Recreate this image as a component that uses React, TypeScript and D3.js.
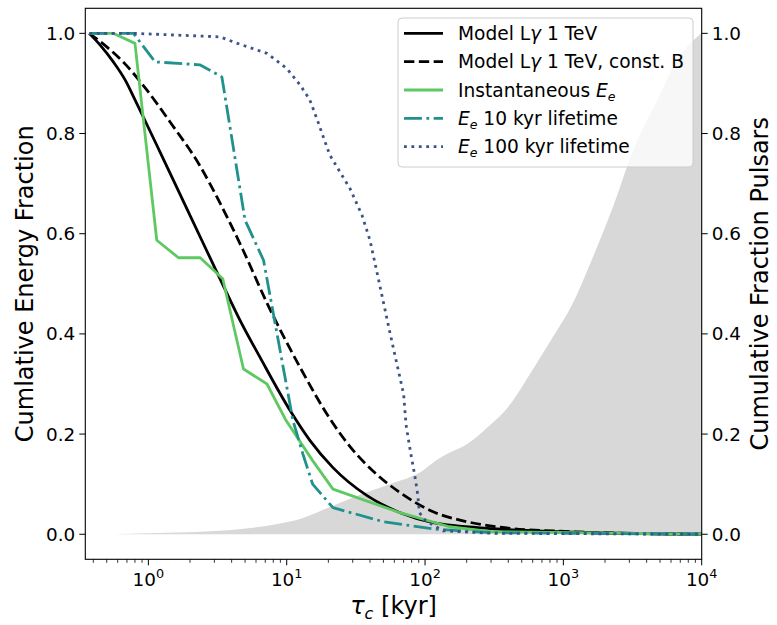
import React from "react";
import * as d3 from "d3";

const tauModel = [0.374, 0.447, 0.558, 0.679, 0.801, 1.215, 1.692, 2.57, 3.47, 4.6, 6.42, 10.58, 14.75, 21.6, 38.1, 66.1, 114.6, 311, 948, 10000];
const fracModel = [1.0, 0.977, 0.943, 0.907, 0.867, 0.763, 0.679, 0.573, 0.497, 0.427, 0.353, 0.247, 0.187, 0.133, 0.077, 0.043, 0.023, 0.011, 0.005, 0];

const tauConstB = [0.374, 0.5, 0.678, 0.974, 1.435, 2.365, 3.3, 4.84, 7.22, 12.5, 21.65, 28.7, 45.0, 66.1, 114.5, 201.6, 349, 948, 10000];
const fracConstB = [1.0, 0.973, 0.939, 0.887, 0.823, 0.735, 0.661, 0.567, 0.461, 0.333, 0.221, 0.175, 0.119, 0.083, 0.045, 0.025, 0.014, 0.006, 0];

const tauInst = [0.375, 0.557, 0.8, 1.15, 1.65, 2.37, 3.45, 4.87, 7.2, 9.9, 15.4, 21.6, 66, 150, 300, 10000];
const fracInst = [1.0, 1.0, 0.98, 0.587, 0.552, 0.552, 0.51, 0.33, 0.3, 0.227, 0.147, 0.09, 0.043, 0.015, 0.005, 0];

const tau10 = [0.375, 0.78, 1.12, 2.37, 3.4, 5.0, 6.8, 11.1, 13.1, 15.4, 21.6, 50, 120, 300, 10000];
const frac10 = [1.0, 1.0, 0.943, 0.937, 0.913, 0.627, 0.547, 0.227, 0.16, 0.1, 0.053, 0.025, 0.01, 0.003, 0];

const tau100 = [0.375, 0.78, 3.3, 4.4, 7.2, 10, 12.5, 14.7, 16.5, 18.4, 20.5, 24.3, 28.7, 35, 40, 46, 56, 70, 73, 79, 84, 88.5, 91, 101, 135, 300, 10000];
const frac100 = [1, 1, 0.993, 0.98, 0.96, 0.93, 0.897, 0.867, 0.83, 0.793, 0.757, 0.723, 0.69, 0.637, 0.587, 0.51, 0.4, 0.28, 0.217, 0.16, 0.12, 0.08, 0.043, 0.027, 0.007, 0.002, 0];

const tauPulsars = [0.55, 1.01, 1.94, 3.03, 5.71, 10.07, 12.5, 18.2, 32.0, 55.4, 96.1, 120, 144, 202, 281, 412, 575, 844, 1177, 1642, 2291, 3196, 4766, 6645, 9268, 10000];
const fracPulsars = [0, 0.002, 0.004, 0.0066, 0.0132, 0.0246, 0.0306, 0.0486, 0.0766, 0.1, 0.127, 0.147, 0.16, 0.18, 0.2126, 0.259, 0.3206, 0.3946, 0.4626, 0.5546, 0.6546, 0.7666, 0.8666, 0.9466, 0.9926, 1.0];

const yTicks = [0, 0.2, 0.4, 0.6, 0.8, 1.0];
const xMajor = [0, 1, 2, 3, 4];

const FONT = "DejaVu Sans";
const L = 85.3, R = 701.7, T = 8.3, B = 559.3;
const LW = 2.8;
const DASHED = `${3.7 * LW},${1.6 * LW}`;
const DASHDOT = `${6.4 * LW},${1.6 * LW},${1 * LW},${1.6 * LW}`;
const DOTTED = `${1 * LW},${1.65 * LW}`;

export default function App() {
  const x = d3.scaleLog().domain([0.35, 1e4]).range([L, R]);
  const y = d3.scaleLinear().domain([-0.05, 1.05]).range([B, T]);

  const line = (xs: number[], ys: number[], smooth: boolean) =>
    d3
      .line<number>()
      .x((i) => x(xs[i]))
      .y((i) => y(ys[i]))
      .curve(smooth ? d3.curveMonotoneX : d3.curveLinear)(xs.map((_, i) => i)) || "";
  const area =
    d3
      .area<number>()
      .x((i) => x(tauPulsars[i]))
      .y0(y(0))
      .y1((i) => y(fracPulsars[i]))
      .curve(d3.curveMonotoneX)(tauPulsars.map((_, i) => i)) || "";

  const minor: number[] = [];
  for (let e = -1; e < 4; e++)
    for (let m = 2; m <= 9; m++) {
      const v = m * Math.pow(10, e);
      if (v >= 0.35 && v <= 1e4) minor.push(v);
    }

  const series = [
    { xs: tauModel, ys: fracModel, color: "#000000", dash: "", smooth: true },
    { xs: tauConstB, ys: fracConstB, color: "#000000", dash: DASHED, smooth: true },
    { xs: tauInst, ys: fracInst, color: "#5ec962", dash: "", smooth: false },
    { xs: tau10, ys: frac10, color: "#21918c", dash: DASHDOT, smooth: false },
    { xs: tau100, ys: frac100, color: "#3b528b", dash: DOTTED, smooth: false },
  ];

  const sub = (s: string) => (
    <>
      <tspan fontStyle="italic">E</tspan>
      <tspan fontStyle="italic" fontSize="12.5" dy="4">{s}</tspan>
    </>
  );

  const legendRows: { color: string; dash: string; label: React.ReactNode }[] = [
    { color: "#000000", dash: "", label: <>Model L<tspan fontStyle="italic">γ</tspan> 1 TeV</> },
    { color: "#000000", dash: DASHED, label: <>Model L<tspan fontStyle="italic">γ</tspan> 1 TeV, const. B</> },
    { color: "#5ec962", dash: "", label: <>Instantaneous {sub("e")}</> },
    { color: "#21918c", dash: DASHDOT, label: <>{sub("e")}<tspan dy="-4"> 10 kyr lifetime</tspan></> },
    { color: "#3b528b", dash: DOTTED, label: <>{sub("e")}<tspan dy="-4"> 100 kyr lifetime</tspan></> },
  ];

  return (
    <svg width={777} height={625} style={{ position: "absolute", left: 0, top: 0 }} fontFamily={FONT}>
      <rect x={0} y={0} width={777} height={625} fill="#ffffff" />
      <defs>
        <clipPath id="plot">
          <rect x={L} y={T} width={R - L} height={B - T} />
        </clipPath>
      </defs>
      <g clipPath="url(#plot)">
        <path d={area} fill="#d8d8d8" />
        {series.map((s, i) => (
          <path
            key={i}
            d={line(s.xs, s.ys, s.smooth)}
            fill="none"
            stroke={s.color}
            strokeWidth={LW}
            strokeDasharray={s.dash || undefined}
            strokeLinejoin="round"
          />
        ))}
      </g>

      {/* legend */}
      <g>
        <rect x={398} y={18} width={295} height={149} rx={4} fill="#ffffff" fillOpacity={0.8} stroke="#cccccc" strokeWidth={1} />
        {legendRows.map((r, i) => {
          const cy = 33.3 + i * 28.35;
          return (
            <g key={i}>
              <line x1={404} x2={443} y1={cy} y2={cy} stroke={r.color} strokeWidth={LW} strokeDasharray={r.dash || undefined} />
              <text x={458} y={cy + 6.6} fontSize={18.6} fill="#000">
                {r.label}
              </text>
            </g>
          );
        })}
      </g>

      {/* frame */}
      <rect x={L} y={T} width={R - L} height={B - T} fill="none" stroke="#000" strokeWidth={1.1} />

      {/* y ticks left & right */}
      {yTicks.map((t) => (
        <g key={t}>
          <line x1={L - 6} x2={L} y1={y(t)} y2={y(t)} stroke="#000" strokeWidth={1} />
          <text x={L - 10} y={y(t) + 6.6} fontSize={18.4} textAnchor="end">
            {t.toFixed(1)}
          </text>
          <line x1={R} x2={R + 6} y1={y(t)} y2={y(t)} stroke="#000" strokeWidth={1} />
          <text x={R + 10} y={y(t) + 6.6} fontSize={18.4} textAnchor="start">
            {t.toFixed(1)}
          </text>
        </g>
      ))}

      {/* x ticks */}
      {minor.map((v) => (
        <line key={v} x1={x(v)} x2={x(v)} y1={B} y2={B + 3.5} stroke="#000" strokeWidth={0.8} />
      ))}
      {xMajor.map((e) => (
        <g key={e}>
          <line x1={x(Math.pow(10, e))} x2={x(Math.pow(10, e))} y1={B} y2={B + 6} stroke="#000" strokeWidth={1} />
          <text x={x(Math.pow(10, e))} y={586} fontSize={18.4} textAnchor="middle">
            10<tspan fontSize={12.8} dy={-8}>{e}</tspan>
          </text>
        </g>
      ))}

      {/* axis labels */}
      <text x={(L + R) / 2} y={614} fontSize={24} textAnchor="middle">
        <tspan fontStyle="italic">τ</tspan>
        <tspan fontStyle="italic" fontSize={16} dy={5}>c</tspan>
        <tspan dy={-5}> [kyr]</tspan>
      </text>
      <text transform={`translate(33, ${(T + B) / 2}) rotate(-90)`} fontSize={24} textAnchor="middle">
        Cumlative Energy Fraction
      </text>
      <text transform={`translate(768, ${(T + B) / 2}) rotate(-90)`} fontSize={24} textAnchor="middle">
        Cumulative Fraction Pulsars
      </text>
    </svg>
  );
}
